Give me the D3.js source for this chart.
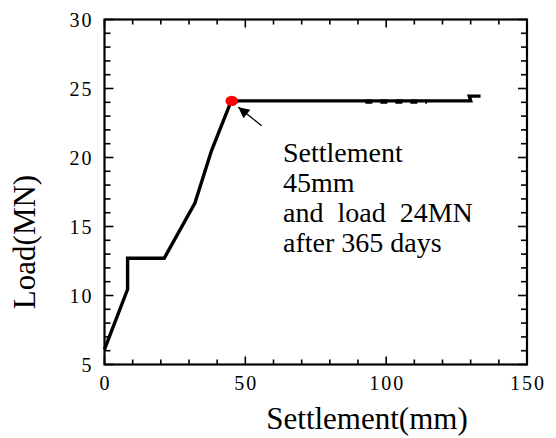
<!DOCTYPE html>
<html><head><meta charset="utf-8">
<script src="https://cdn.jsdelivr.net/npm/d3@7"></script>
<style>body{margin:0;background:#fff}svg{display:block}</style>
</head><body>
<svg id="c" width="556" height="438"></svg>
<script>
const settlement = [0, 8.2, 8.2, 21.2, 32.1, 38.0, 45.0, 130.0, 129.5, 133.5];
const load       = [6.1, 10.45, 12.7, 12.7, 16.7, 20.5, 24.1, 24.1, 24.45, 24.45];
const creepSettlement = [92.6, 114.5];
const creepLoad = [24.05, 24.05];
const peak = {settlement: 45.0, load: 24.1};
const arrowFrom = {settlement: 55.8, load: 22.3};
const arrowTo = {settlement: 47.5, load: 23.65};
const xTicks = [0, 50, 100, 150];
const yTicks = [5, 10, 15, 20, 25, 30];
const noteLines = ["Settlement", "45mm", "and  load  24MN", "after 365 days"];

const svg = d3.select("#c");
const x = d3.scaleLinear().domain([0,150]).range([104.5, 527]);
const y = d3.scaleLinear().domain([5,30]).range([364.5, 19.5]);
const L = x.range()[0], R = x.range()[1], T = y.range()[1], B = y.range()[0];
const serif = "Liberation Serif, Times New Roman, serif";

const defs = svg.append("defs");
defs.append("marker").attr("id","ah").attr("viewBox","0 0 10 10").attr("refX",10).attr("refY",5)
  .attr("markerWidth",13).attr("markerHeight",11).attr("markerUnits","userSpaceOnUse").attr("orient","auto")
  .append("path").attr("d","M0,0 L10,5 L0,10 Z").attr("fill","#000");

// ticks (inward, all four sides)
const xMinor = d3.range(0,151,10), yMinor = d3.range(5,31,1);
const g = svg.append("g").attr("stroke","#000").attr("stroke-width",1.6);
xMinor.forEach(v=>{
  const maj = v%50===0;
  g.append("line").attr("x1",x(v)).attr("x2",x(v)).attr("y1",B).attr("y2",B-(maj?8:5));
  g.append("line").attr("x1",x(v)).attr("x2",x(v)).attr("y1",T).attr("y2",T+(maj?8:5));
});
yMinor.forEach(v=>{
  const maj = v%5===0;
  g.append("line").attr("y1",y(v)).attr("y2",y(v)).attr("x1",L).attr("x2",L+(maj?9:6));
  g.append("line").attr("y1",y(v)).attr("y2",y(v)).attr("x1",R).attr("x2",R-(maj?9:6));
});
svg.append("rect").attr("x",L).attr("y",T).attr("width",R-L).attr("height",B-T)
  .attr("fill","none").attr("stroke","#000").attr("stroke-width",2.2);

// tick labels
svg.append("g").selectAll("text").data(xTicks).join("text")
  .attr("x",d=>x(d)+1).attr("y",B+25).attr("text-anchor","middle")
  .style("font-family",serif).attr("font-size",20).attr("letter-spacing",2)
  .text(d=>d);
svg.append("g").selectAll("text").data(yTicks).join("text")
  .attr("x",L-11).attr("y",d=>y(d)+7).attr("text-anchor","end")
  .style("font-family",serif).attr("font-size",20).attr("letter-spacing",2)
  .text(d=>d);

// axis titles
svg.append("text").attr("x",367).attr("y",429).attr("text-anchor","middle")
  .style("font-family",serif).attr("font-size",31).text("Settlement(mm)");
svg.append("text").attr("transform","translate(35,242) rotate(-90)").attr("text-anchor","middle")
  .style("font-family",serif).attr("font-size",31).text("Load(MN)");

// curve
const pts = settlement.map((s,i)=>[s, load[i]]);
const line = d3.line().x(d=>x(d[0])).y(d=>y(d[1]));
svg.append("path").attr("d",line(pts)).attr("fill","none").attr("stroke","#000")
  .attr("stroke-width",3.4).attr("stroke-linejoin","miter");
svg.append("path").attr("d",line(creepSettlement.map((s,i)=>[s,creepLoad[i]])))
  .attr("fill","none").attr("stroke","#000").attr("stroke-width",4.4).attr("stroke-dasharray","7,8");

// peak marker
svg.append("ellipse").attr("cx",x(peak.settlement)+0.5).attr("cy",y(peak.load)).attr("rx",6.3).attr("ry",5.2).attr("fill","#ff0000");

// arrow
svg.append("line").attr("x1",x(arrowFrom.settlement)).attr("y1",y(arrowFrom.load))
  .attr("x2",x(arrowTo.settlement)).attr("y2",y(arrowTo.load))
  .attr("stroke","#000").attr("stroke-width",1.3).attr("marker-end","url(#ah)");

// annotation
svg.append("g").selectAll("text").data(noteLines).join("text")
  .attr("x",283).attr("y",(d,i)=>162+i*30).style("white-space","pre")
  .style("font-family",serif).attr("font-size",28).text(d=>d);
</script>
</body></html>
